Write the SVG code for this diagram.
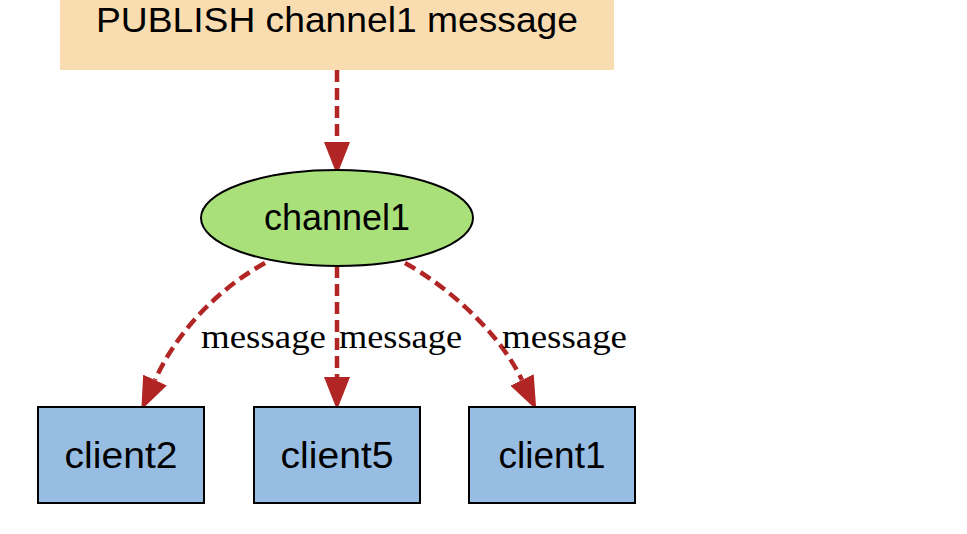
<svg xmlns="http://www.w3.org/2000/svg" width="967" height="534" viewBox="0 0 967 534">
<style>
.sans{font-family:"Liberation Sans",Arial,sans-serif;fill:#000;text-anchor:middle}
.serif{font-family:"Liberation Serif","Times New Roman",serif;fill:#000;font-size:34px}
.edge{fill:none;stroke:#B22525;stroke-width:4.5;stroke-dasharray:12 6}
.client{fill:#98BDE3;stroke:#000;stroke-width:2}
</style>
<defs>
<marker id="ah" markerUnits="userSpaceOnUse" viewBox="0 -13 33 26" markerWidth="33" markerHeight="26" refX="0" refY="0" orient="auto">
<path d="M0,-13 L33,0 L0,13 z" fill="#B22525"/>
</marker>
</defs>
<rect width="967" height="534" fill="#fff"/>
<g id="publish">
<rect x="60" y="-2" width="554" height="72" fill="#F9DDB1"/>
<text class="sans" x="337" y="32" font-size="35" textLength="482" lengthAdjust="spacingAndGlyphs">PUBLISH channel1 message</text>
</g>
<g id="connectors">
<path class="edge" d="M337,70 L337,142" marker-end="url(#ah)"/>
<path class="edge" d="M265,263 C225,285 180,325 155,380" marker-end="url(#ah)"/>
<path class="edge" d="M337,266 L337,377" marker-end="url(#ah)"/>
<path class="edge" d="M405,263 C445,285 498,330 522,380" marker-end="url(#ah)"/>
<text class="serif" x="201" y="348" textLength="125" lengthAdjust="spacingAndGlyphs">message</text>
<text class="serif" x="339" y="348" textLength="123" lengthAdjust="spacingAndGlyphs">message</text>
<text class="serif" x="502" y="348" textLength="125" lengthAdjust="spacingAndGlyphs">message</text>
</g>
<g id="channel1">
<ellipse cx="337" cy="218" rx="136" ry="48" fill="#AAE07A" stroke="#000" stroke-width="2"/>
<text class="sans" x="337" y="230" font-size="36" textLength="146" lengthAdjust="spacingAndGlyphs">channel1</text>
</g>
<g id="client2">
<rect class="client" x="38" y="407" width="166" height="96"/>
<text class="sans" x="121" y="468" font-size="36" textLength="113" lengthAdjust="spacingAndGlyphs">client2</text>
</g>
<g id="client5">
<rect class="client" x="254" y="407" width="166" height="96"/>
<text class="sans" x="337" y="468" font-size="36" textLength="113" lengthAdjust="spacingAndGlyphs">client5</text>
</g>
<g id="client1">
<rect class="client" x="469" y="407" width="166" height="96"/>
<text class="sans" x="552" y="468" font-size="36" textLength="107" lengthAdjust="spacingAndGlyphs">client1</text>
</g>
</svg>
